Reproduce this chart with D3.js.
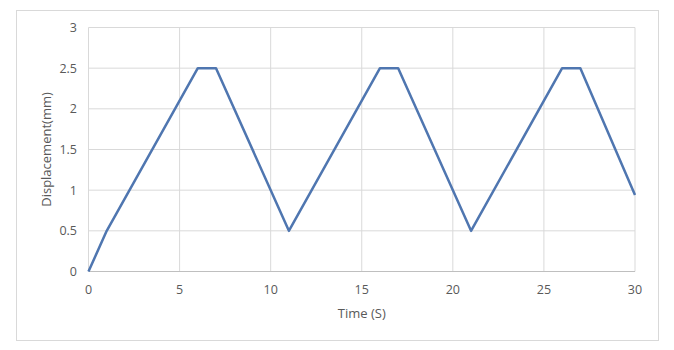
<!DOCTYPE html>
<html>
<head>
<meta charset="utf-8">
<script src="https://cdn.jsdelivr.net/npm/d3@7"></script>
<style>
  body { margin: 0; background: #fff; }
  svg text { font-family: "Open Sans", "Noto Sans", sans-serif; fill: #595959; }
</style>
</head>
<body>
<svg id="chart" width="674" height="350"></svg>
<script>
// time (s) and displacement (mm)
const times = [0, 1, 6, 7, 11, 16, 17, 21, 26, 27, 30];
const displacement = [0, 0.5, 2.5, 2.5, 0.5, 2.5, 2.5, 0.5, 2.5, 2.5, 0.94];
const xTicks = [0, 5, 10, 15, 20, 25, 30];
const yTicks = [0, 0.5, 1, 1.5, 2, 2.5, 3];

const svg = d3.select("#chart");

// outer chart border
svg.append("rect")
  .attr("x", 16.5).attr("y", 10.5)
  .attr("width", 642).attr("height", 330)
  .attr("fill", "none")
  .attr("stroke", "#d9d9d9");

const x = d3.scaleLinear().domain([0, 30]).range([88.5, 635]);
const y = d3.scaleLinear().domain([0, 3]).range([271.5, 27.5]);

// gridlines
svg.append("g").selectAll("line")
  .data(yTicks.slice(1))
  .enter().append("line")
  .attr("x1", x(0)).attr("x2", x(30))
  .attr("y1", d => y(d)).attr("y2", d => y(d))
  .attr("stroke", "#d9d9d9");

svg.append("g").selectAll("line")
  .data(xTicks)
  .enter().append("line")
  .attr("y1", y(0)).attr("y2", y(3))
  .attr("x1", d => x(d)).attr("x2", d => x(d))
  .attr("stroke", "#d9d9d9");

// x axis baseline
svg.append("line")
  .attr("x1", x(0)).attr("x2", x(30))
  .attr("y1", y(0)).attr("y2", y(0))
  .attr("stroke", "#bfbfbf");

// tick labels
svg.append("g").selectAll("text")
  .data(yTicks)
  .enter().append("text")
  .attr("x", 77)
  .attr("y", d => y(d))
  .attr("dy", "0.35em")
  .attr("text-anchor", "end")
  .attr("font-size", 12.5)
  .text(d => d);

svg.append("g").selectAll("text")
  .data(xTicks)
  .enter().append("text")
  .attr("x", d => x(d))
  .attr("y", 290)
  .attr("dy", "0.35em")
  .attr("text-anchor", "middle")
  .attr("font-size", 12.5)
  .text(d => d);

// axis titles
svg.append("text")
  .attr("x", x(15)).attr("y", 313)
  .attr("dy", "0.35em")
  .attr("text-anchor", "middle")
  .attr("font-size", 13)
  .text("Time (S)");

svg.append("text")
  .attr("transform", `translate(46,${y(1.5)}) rotate(-90)`)
  .attr("dy", "0.35em")
  .attr("text-anchor", "middle")
  .attr("font-size", 13)
  .text("Displacement(mm)");

// data line
const line = d3.line()
  .x((d, i) => x(times[i]))
  .y(d => y(d));

svg.append("path")
  .datum(displacement)
  .attr("d", line)
  .attr("fill", "none")
  .attr("stroke", "#4f76b0")
  .attr("stroke-width", 2.5)
  .attr("stroke-linejoin", "round");
</script>
</body>
</html>
